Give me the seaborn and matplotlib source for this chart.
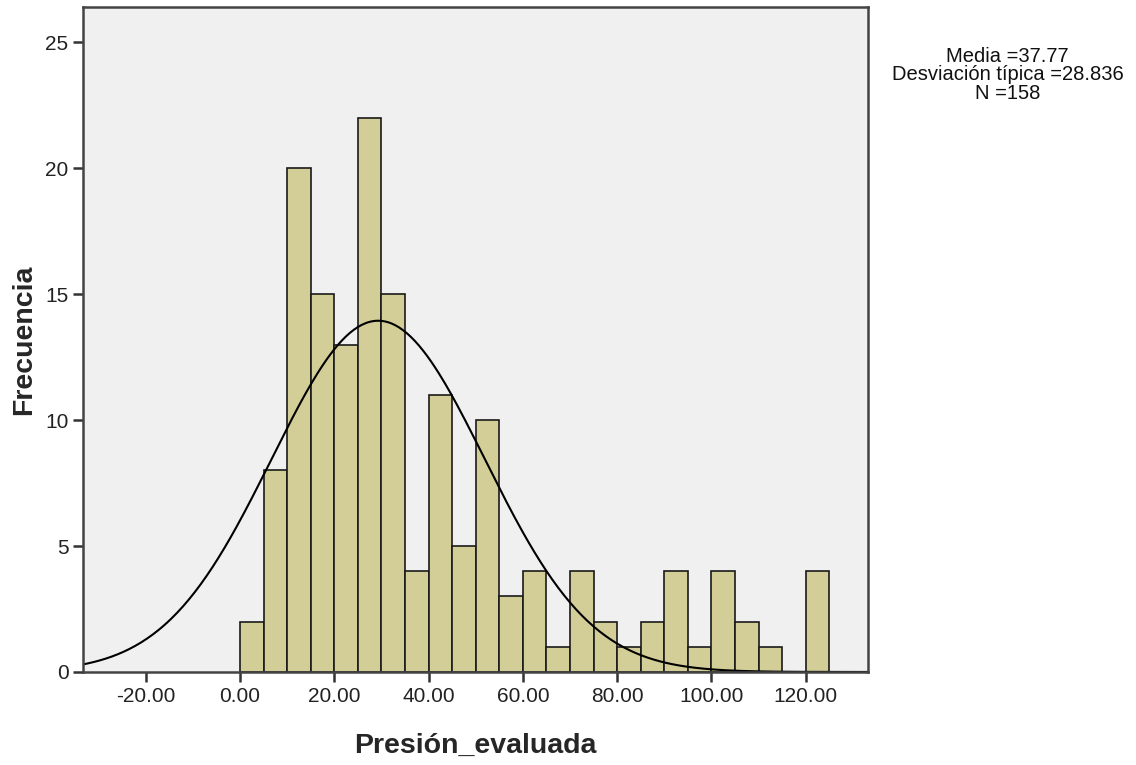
import numpy as np
import pandas as pd
import seaborn as sns
import matplotlib.pyplot as plt

# histogram counts (bins of width 5 from 0 to 125)
bin_edges = list(range(0, 130, 5))
counts = [2, 8, 20, 15, 13, 22, 15, 4, 11, 5, 10, 3, 4, 1, 4, 2, 1, 2, 4, 1, 4, 2, 1, 0, 4]

# normal curve as drawn on the chart
curve_mu = 29.3
curve_sigma = 22.6
n_total = 158
bin_width = 5

x_ticks = [-20, 0, 20, 40, 60, 80, 100, 120]
y_ticks = [0, 5, 10, 15, 20, 25]
stats_text = "Media =37.77\nDesviación típica =28.836\nN =158"

df = pd.DataFrame({"centro": [e + bin_width / 2 for e in bin_edges[:-1]], "frecuencia": counts})

sns.set_style("white")
plt.rcParams['font.family'] = ['Liberation Sans', 'DejaVu Sans']

fig = plt.figure(figsize=(11.36, 7.65), dpi=100)
ax = fig.add_axes([0.0731, 0.1216, 0.691, 0.8692])
ax.set_facecolor('#f0f0f0')

sns.histplot(data=df, x='centro', weights='frecuencia', bins=bin_edges,
             color='#d3ce97', alpha=1, edgecolor='#1a1a1a', linewidth=1.2, ax=ax)

xs = np.linspace(-34, 134, 400)
ys = n_total * bin_width / (curve_sigma * np.sqrt(2 * np.pi)) * np.exp(-0.5 * ((xs - curve_mu) / curve_sigma) ** 2)
sns.lineplot(x=xs, y=ys, color='black', linewidth=1.5, ax=ax)

ax.set_xlim(-33.3, 133.2)
ax.set_ylim(0, 26.4)
ax.set_xticks(x_ticks)
ax.set_xticklabels([f"{t:.2f}" for t in x_ticks])
ax.set_yticks(y_ticks)
ax.tick_params(axis='both', direction='out', length=7, width=1.8, color='#333333',
               labelsize=15, labelcolor='#222222', bottom=True, left=True)
for s in ax.spines.values():
    s.set_color('#444444')
    s.set_linewidth(1.8)

ax.set_xlabel('Presión_evaluada', fontsize=20.5, fontweight='bold', labelpad=20)
ax.set_ylabel('Frecuencia', fontsize=20.5, fontweight='bold', labelpad=6)

fig.text(0.887, 0.902, stats_text, ha='center', va='center', fontsize=14.5,
         linespacing=0.95, color='#111111')

fig.savefig('out.png', dpi=100, facecolor='white')
